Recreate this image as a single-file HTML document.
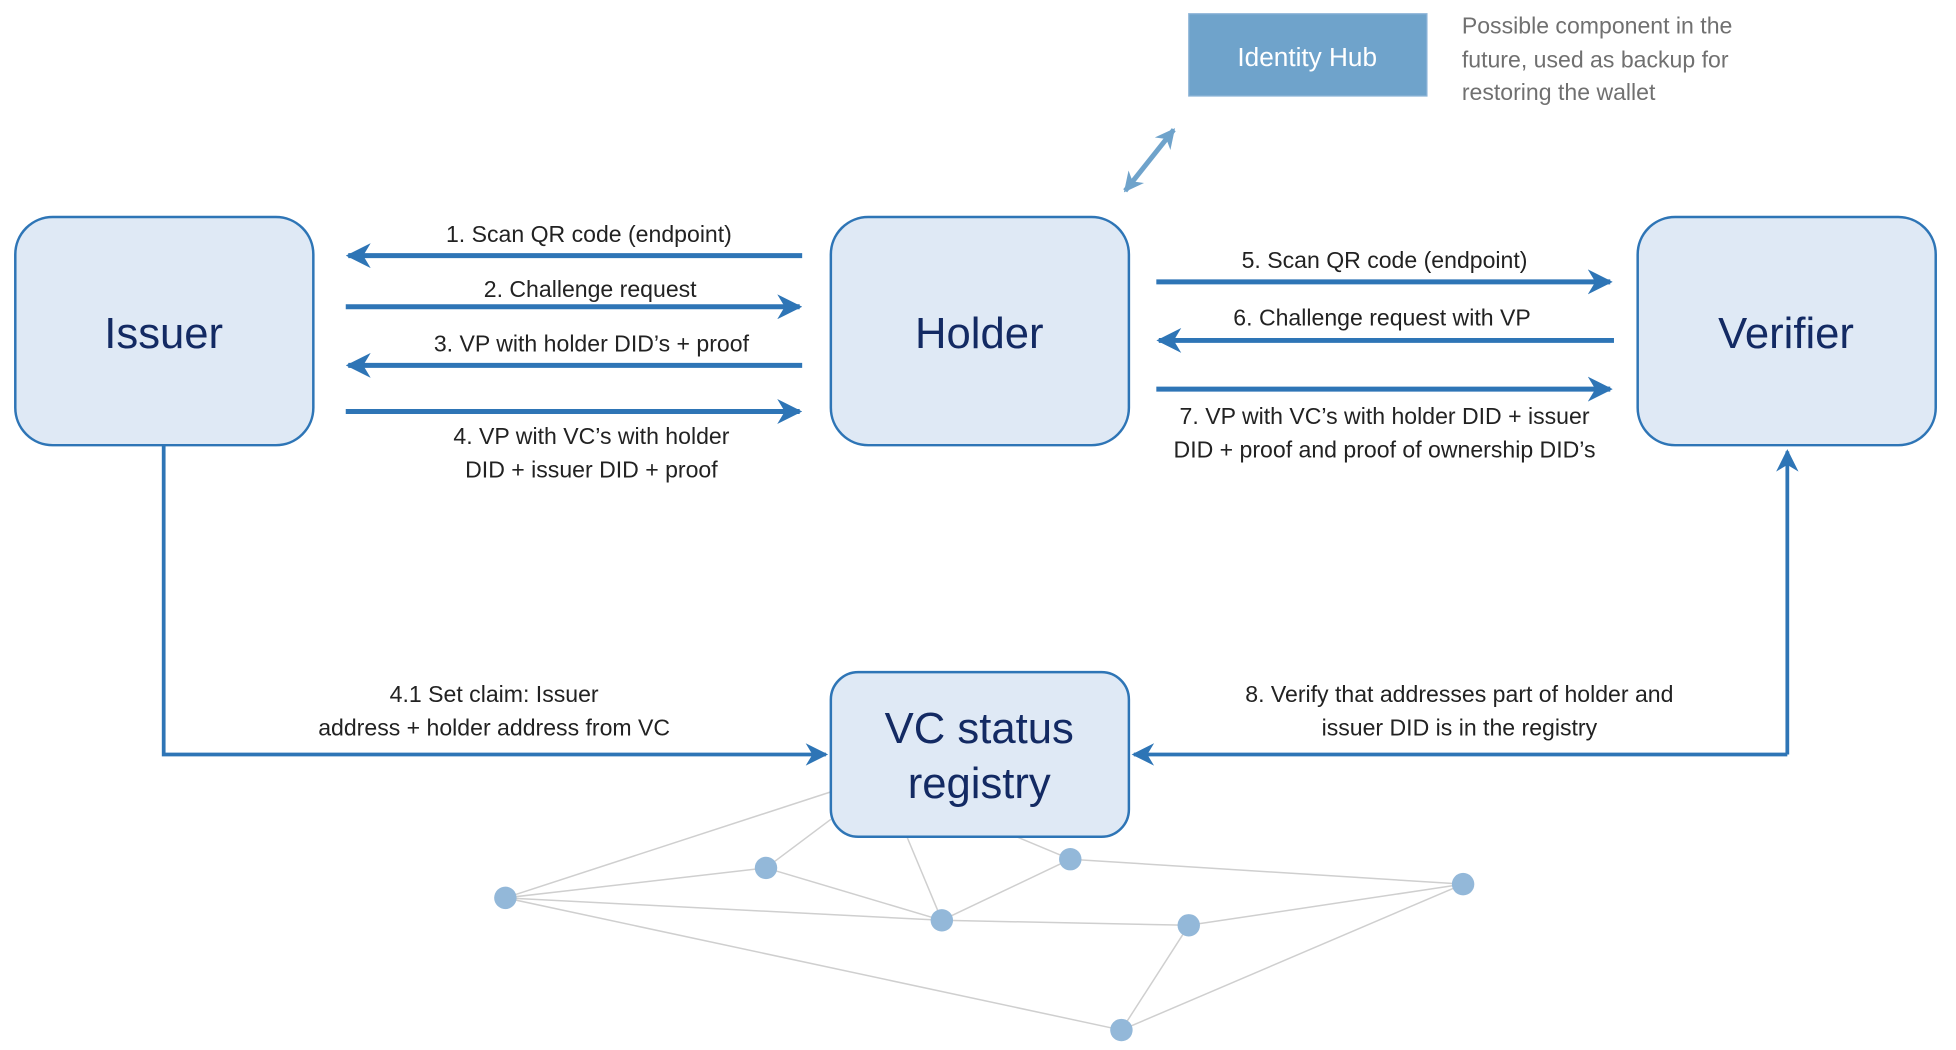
<!DOCTYPE html>
<html><head><meta charset="utf-8"><style>
html,body{margin:0;padding:0;background:#fff;}
svg{display:block}
text{font-family:"Liberation Sans",sans-serif;}
</style></head><body>
<svg width="1956" height="1050" viewBox="0 0 1568 842" xmlns="http://www.w3.org/2000/svg">
<defs>
<marker id="ah" viewBox="0 0 10 10" refX="9" refY="5" markerWidth="5" markerHeight="5" orient="auto-start-reverse" markerUnits="strokeWidth">
<path d="M0,0 L10,5 L0,10 L3,5 z" fill="#2e75b6"/></marker>
<marker id="ah2" viewBox="0 0 10 10" refX="9" refY="5" markerWidth="6" markerHeight="6" orient="auto-start-reverse" markerUnits="strokeWidth">
<path d="M0,0 L10,5 L0,10 L3,5 z" fill="#2e75b6"/></marker>
<marker id="ah3" viewBox="0 0 10 10" refX="9" refY="5" markerWidth="4" markerHeight="4" orient="auto-start-reverse" markerUnits="strokeWidth">
<path d="M0,0 L10,5 L0,10 L3,5 z" fill="#6fa3cb"/></marker>
</defs>
<!-- network -->
<g stroke="#cfcfcf" stroke-width="1.2" fill="none">
<line x1="666" y1="635" x2="405" y2="720"/>
<line x1="405" y1="720" x2="614" y2="696"/>
<line x1="614" y1="696" x2="666" y2="657"/>
<line x1="405" y1="720" x2="755" y2="738"/>
<line x1="405" y1="720" x2="899" y2="826"/>
<line x1="614" y1="696" x2="755" y2="738"/>
<line x1="755" y1="738" x2="727" y2="671"/>
<line x1="755" y1="738" x2="858" y2="689"/>
<line x1="858" y1="689" x2="815" y2="671"/>
<line x1="858" y1="689" x2="1173" y2="709"/>
<line x1="755" y1="738" x2="953" y2="742"/>
<line x1="953" y1="742" x2="1173" y2="709"/>
<line x1="953" y1="742" x2="899" y2="826"/>
<line x1="1173" y1="709" x2="899" y2="826"/>
</g>
<g fill="#93b8d9">
<circle cx="405" cy="720" r="9"/><circle cx="614" cy="696" r="9"/><circle cx="755" cy="738" r="9"/>
<circle cx="858" cy="689" r="9"/><circle cx="953" cy="742" r="9"/><circle cx="1173" cy="709" r="9"/><circle cx="899" cy="826" r="9"/>
</g>
<!-- boxes -->
<g fill="#dfe9f5" stroke="#2e75b6" stroke-width="2">
<rect x="12" y="174" width="239" height="183" rx="30"/>
<rect x="666" y="174" width="239" height="183" rx="30"/>
<rect x="1313" y="174" width="239" height="183" rx="30"/>
<rect x="666" y="539" width="239" height="132" rx="22"/>
</g>
<g fill="#132a63" font-size="35" text-anchor="middle">
<text x="131" y="279">Issuer</text>
<text x="785" y="279">Holder</text>
<text x="1432" y="279">Verifier</text>
<text x="785" y="596">VC status</text>
<text x="785" y="640">registry</text>
</g>
<rect x="953" y="11" width="191" height="66" fill="#6fa3cb" stroke="#8fb5d8" stroke-width="1"/>
<text x="1048" y="53" fill="#fff" font-size="21" text-anchor="middle">Identity Hub</text>
<g fill="#707070" font-size="18.5">
<text x="1172" y="27">Possible component in the</text>
<text x="1172" y="54">future, used as backup for</text>
<text x="1172" y="80">restoring the wallet</text>
</g>
<line x1="902" y1="153" x2="941" y2="104" stroke="#6fa3cb" stroke-width="4" marker-start="url(#ah3)" marker-end="url(#ah3)"/>
<!-- arrows -->
<g stroke="#2e75b6" stroke-width="4" fill="none">
<line x1="643" y1="205" x2="279" y2="205" marker-end="url(#ah)"/>
<line x1="277" y1="246" x2="641" y2="246" marker-end="url(#ah)"/>
<line x1="643" y1="293" x2="279" y2="293" marker-end="url(#ah)"/>
<line x1="277" y1="330" x2="641" y2="330" marker-end="url(#ah)"/>
<line x1="927" y1="226" x2="1291" y2="226" marker-end="url(#ah)"/>
<line x1="1294" y1="273" x2="929" y2="273" marker-end="url(#ah)"/>
<line x1="927" y1="312" x2="1291" y2="312" marker-end="url(#ah)"/>
</g>
<g stroke="#2e75b6" stroke-width="3" fill="none">
<polyline points="131,357 131,605 662,605" marker-end="url(#ah2)"/>
<polyline points="1433,605 1433,362" marker-end="url(#ah2)"/>
<line x1="1433" y1="605" x2="909" y2="605" marker-end="url(#ah2)"/>
</g>
<g fill="#222" font-size="18.5" text-anchor="middle">
<text x="472" y="194">1. Scan QR code (endpoint)</text>
<text x="473" y="238">2. Challenge request</text>
<text x="474" y="282">3. VP with holder DID’s + proof</text>
<text x="474" y="356">4. VP with VC’s with holder</text>
<text x="474" y="383">DID + issuer DID + proof</text>
<text x="1110" y="215">5. Scan QR code (endpoint)</text>
<text x="1108" y="261">6. Challenge request with VP</text>
<text x="1110" y="340">7. VP with VC’s with holder DID + issuer</text>
<text x="1110" y="367">DID + proof and proof of ownership DID’s</text>
<text x="396" y="563">4.1 Set claim: Issuer</text>
<text x="396" y="590">address + holder address from VC</text>
<text x="1170" y="563">8. Verify that addresses part of holder and</text>
<text x="1170" y="590">issuer DID is in the registry</text>
</g>
</svg>
</body></html>
